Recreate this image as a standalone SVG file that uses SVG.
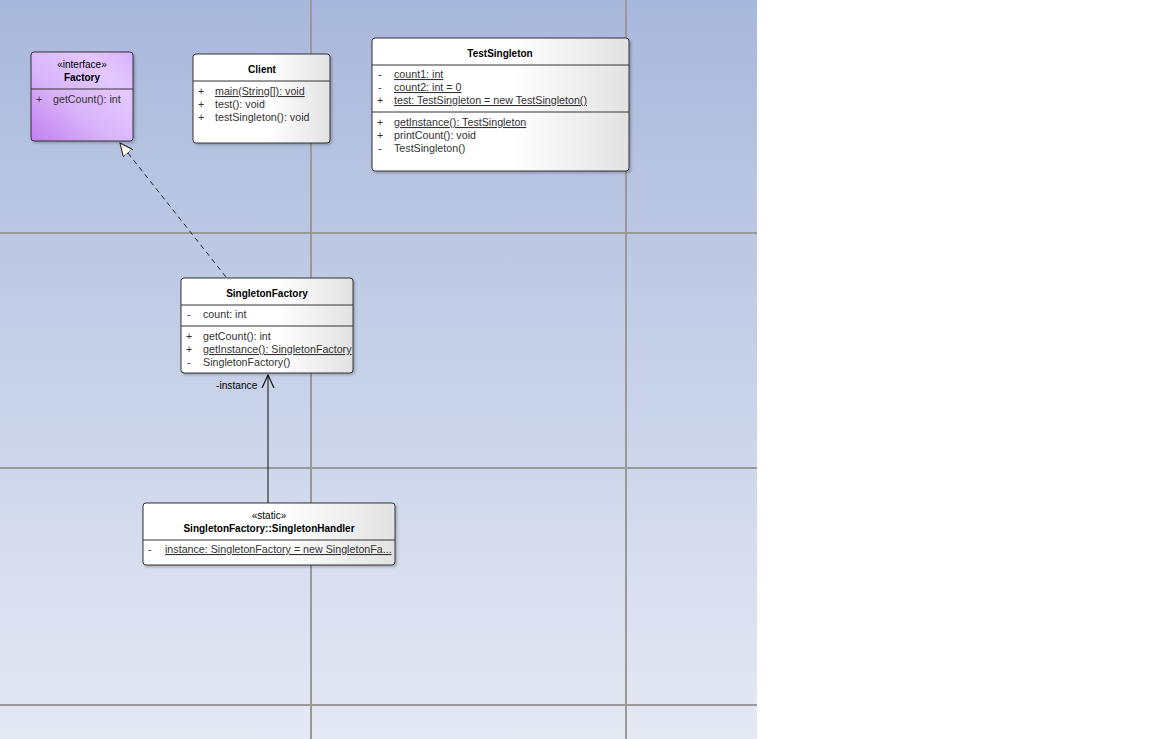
<svg xmlns="http://www.w3.org/2000/svg" width="1152" height="739" viewBox="0 0 1152 739">
<defs>
<linearGradient id="bg" x1="0" y1="0" x2="0" y2="1">
<stop offset="0" stop-color="#a8b8dc"/>
<stop offset="1" stop-color="#e5e9f4"/>
</linearGradient>
<linearGradient id="cls" x1="0" y1="0" x2="1" y2="0">
<stop offset="0" stop-color="#ffffff"/>
<stop offset="0.55" stop-color="#ffffff"/>
<stop offset="1" stop-color="#e2e2e2"/>
</linearGradient>
<linearGradient id="ifc" x1="0" y1="1" x2="1" y2="0">
<stop offset="0" stop-color="#c27ef0"/>
<stop offset="0.4" stop-color="#d9b4fa"/>
<stop offset="0.75" stop-color="#e3c8fd"/>
<stop offset="1" stop-color="#d8b0fb"/>
</linearGradient>
<filter id="sh" x="-10%" y="-10%" width="130%" height="130%">
<feDropShadow dx="1.5" dy="1.5" stdDeviation="1" flood-color="#000" flood-opacity="0.25"/>
</filter>
<marker id="tri" viewBox="0 0 14 12" refX="13" refY="6" markerWidth="14" markerHeight="12" markerUnits="userSpaceOnUse" orient="auto">
<path d="M0,0 L13,6 L0,12 Z" fill="#fff8e8" stroke="#222" stroke-width="1"/>
</marker>
<marker id="open" viewBox="0 0 14 14" refX="13" refY="7" markerWidth="14" markerHeight="14" markerUnits="userSpaceOnUse" orient="auto">
<path d="M0,1 L13,7 L0,13" fill="none" stroke="#111" stroke-width="1.2"/>
</marker>
</defs>
<style>
.box{fill:url(#cls);stroke:#333;stroke-width:1;filter:url(#sh)}
.ibox{fill:url(#ifc);stroke:#333;stroke-width:1;filter:url(#sh)}
.sep{stroke:#333;stroke-width:1}
text{font-family:"Liberation Sans",Arial,sans-serif;font-size:10.7px;fill:#333}
.t{font-weight:bold;font-size:10px;fill:#000;text-anchor:middle}
.st{fill:#000;font-size:10px;text-anchor:middle}
.u{text-decoration:underline}
.lbl{fill:#000;font-size:10.2px}
.grid{stroke:#999;stroke-width:2}
</style>
<rect x="0" y="0" width="757" height="739" fill="url(#bg)"/>
<g id="grid">
<line class="grid" x1="311" y1="0" x2="311" y2="739"/>
<line class="grid" x1="626" y1="0" x2="626" y2="739"/>
<line class="grid" x1="0" y1="233" x2="757" y2="233"/>
<line class="grid" x1="0" y1="468" x2="757" y2="468"/>
<line class="grid" x1="0" y1="705" x2="757" y2="705"/>
</g>
<g id="connectors">
<line x1="226" y1="277" x2="120" y2="143" stroke="#222" stroke-width="1" stroke-dasharray="5,4" marker-end="url(#tri)"/>
<line x1="268" y1="503" x2="268" y2="375" stroke="#111" stroke-width="1" marker-end="url(#open)"/>
<text class="lbl" x="216" y="389">-instance</text>
</g>
<g id="Factory">
<rect class="ibox" x="31" y="52" width="102" height="89" rx="3"/>
<line class="sep" x1="31" y1="89" x2="133" y2="89"/>
<text class="st" x="82" y="68">«interface»</text>
<text class="t" x="82" y="81">Factory</text>
<text x="36" y="103">+</text>
<text x="53" y="103">getCount(): int</text>
</g>
<g id="Client">
<rect class="box" x="193" y="54" width="137" height="89" rx="3"/>
<line class="sep" x1="193" y1="81" x2="330" y2="81"/>
<text class="t" x="262" y="73">Client</text>
<text x="198" y="95">+</text>
<text class="u" x="215" y="95">main(String[]): void</text>
<text x="198" y="108">+</text>
<text x="215" y="108">test(): void</text>
<text x="198" y="121">+</text>
<text x="215" y="121">testSingleton(): void</text>
</g>
<g id="TestSingleton">
<rect class="box" x="372" y="38" width="257" height="133" rx="3"/>
<line class="sep" x1="372" y1="65" x2="629" y2="65"/>
<line class="sep" x1="372" y1="112" x2="629" y2="112"/>
<text class="t" x="500" y="57">TestSingleton</text>
<text x="378" y="78">-</text>
<text class="u" x="394" y="78">count1: int</text>
<text x="378" y="91">-</text>
<text class="u" x="394" y="91">count2: int = 0</text>
<text x="377" y="104">+</text>
<text class="u" x="394" y="104">test: TestSingleton = new TestSingleton()</text>
<text x="377" y="126">+</text>
<text class="u" x="394" y="126">getInstance(): TestSingleton</text>
<text x="377" y="139">+</text>
<text x="394" y="139">printCount(): void</text>
<text x="378" y="152">-</text>
<text x="394" y="152">TestSingleton()</text>
</g>
<g id="SingletonFactory">
<rect class="box" x="181" y="278" width="172" height="95" rx="3"/>
<line class="sep" x1="181" y1="305" x2="353" y2="305"/>
<line class="sep" x1="181" y1="326" x2="353" y2="326"/>
<text class="t" x="267" y="297">SingletonFactory</text>
<text x="187" y="318">-</text>
<text x="203" y="318">count: int</text>
<text x="186" y="340">+</text>
<text x="203" y="340">getCount(): int</text>
<text x="186" y="353">+</text>
<text class="u" x="203" y="353">getInstance(): SingletonFactory</text>
<text x="187" y="366">-</text>
<text x="203" y="366">SingletonFactory()</text>
</g>
<g id="SingletonHandler">
<rect class="box" x="143" y="503" width="252" height="62" rx="3"/>
<line class="sep" x1="143" y1="540" x2="395" y2="540"/>
<text class="st" x="269" y="519">«static»</text>
<text class="t" x="269" y="532">SingletonFactory::SingletonHandler</text>
<text x="148" y="553">-</text>
<text class="u" x="165" y="553">instance: SingletonFactory = new SingletonFa...</text>
</g>
</svg>
